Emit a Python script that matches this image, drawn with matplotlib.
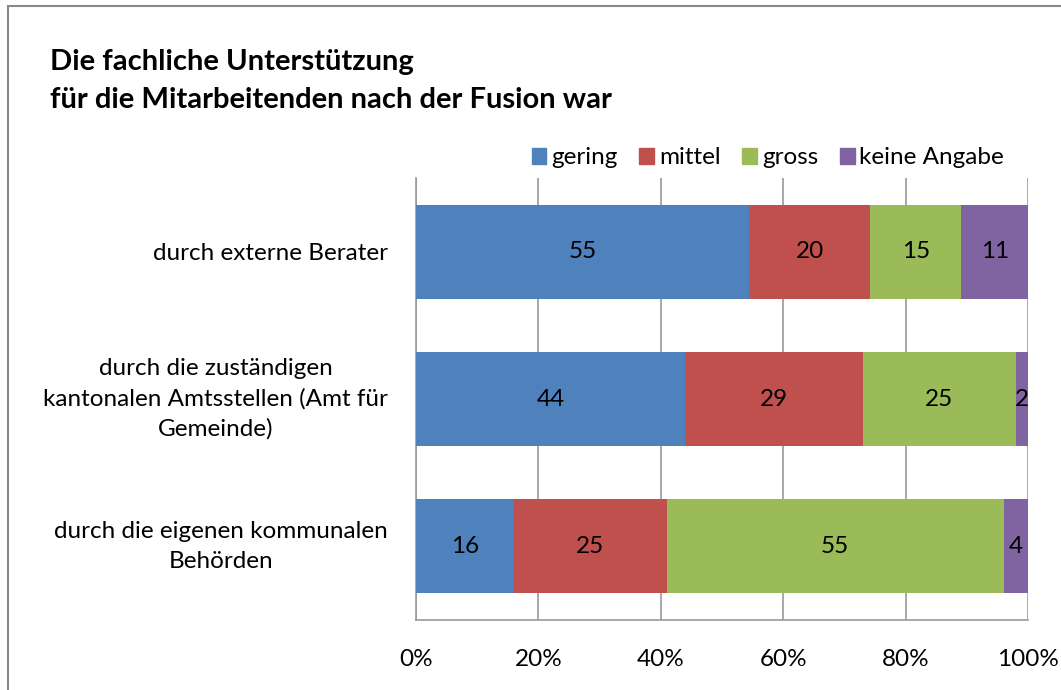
import numpy as np
import matplotlib
matplotlib.use('Agg')
import matplotlib.pyplot as plt
from matplotlib.patches import Rectangle, Patch

plt.rcParams['font.family'] = ['Lato', 'DejaVu Sans']

categories = ['durch externe Berater',
              'durch die zuständigen\nkantonalen Amtsstellen (Amt für\nGemeinde)',
              'durch die eigenen kommunalen\nBehörden']
series = ['gering', 'mittel', 'gross', 'keine Angabe']
gering = [55, 44, 16]
mittel = [20, 29, 25]
gross = [15, 25, 55]
keine = [11, 2, 4]
colors = ['#4F81BD', '#C0504D', '#9BBB59', '#8064A2']
xticks = [0, 20, 40, 60, 80, 100]

vals = np.array([gering, mittel, gross, keine], dtype=float)
totals = vals.sum(axis=0)
pct = vals / totals * 100

fs = 17.5

fig = plt.figure(figsize=(10.61, 6.9), dpi=100, facecolor='white')
ax = fig.add_axes([416/1061, 1-620/690, 612/1061, 442/690])

y = np.arange(len(categories))
left = np.zeros(len(categories))
for i in range(len(series)):
    ax.barh(y, pct[i], left=left, height=0.64, color=colors[i], zorder=3, label=series[i])
    for j in range(len(categories)):
        ax.text(left[j] + pct[i][j]/2, y[j], '%d' % vals[i][j], ha='center', va='center',
                fontsize=fs, color='black', zorder=4)
    left += pct[i]

ax.set_xlim(0, 100)
ax.set_ylim(2.5, -0.5)
ax.set_xticks(xticks)
ax.set_xticklabels(['%d%%' % t for t in xticks], fontsize=fs)
ax.set_yticks(y)
ax.set_yticklabels(categories, fontsize=fs, ha='right', multialignment='center', linespacing=1.5)
for lab in ax.get_yticklabels():
    if '\n' in lab.get_text():
        lab.set_va('center')
ax.tick_params(axis='y', length=0, pad=20)
ax.tick_params(axis='x', length=0, pad=21)
ax.xaxis.grid(True, color='#999999', linewidth=1.2, zorder=0)
for s in ['top', 'right']:
    ax.spines[s].set_visible(False)
for s in ['left', 'bottom']:
    ax.spines[s].set_color('#999999')
    ax.spines[s].set_linewidth(1.2)

handles = [Patch(color=c) for c in colors]
fig.legend(handles, series, loc='center', bbox_to_anchor=(768/1061, 1-158/690), ncol=4,
           frameon=False, fontsize=fs, handlelength=0.6, handleheight=0.6,
           handletextpad=0.2, columnspacing=0.9)

fig.text(50/1061, 1-62/690, 'Die fachliche Unterstützung', fontsize=21, fontweight='bold',
         va='center', ha='left')
fig.text(50/1061, 1-100/690, 'für die Mitarbeitenden nach der Fusion war', fontsize=21,
         fontweight='bold', va='center', ha='left')

fig.patches.append(Rectangle((8/1061, -0.1), 1.2, 1.1 - 6/690, transform=fig.transFigure,
                             fill=False, edgecolor='#888888', linewidth=1.5))

fig.savefig('out.png', dpi=100)
